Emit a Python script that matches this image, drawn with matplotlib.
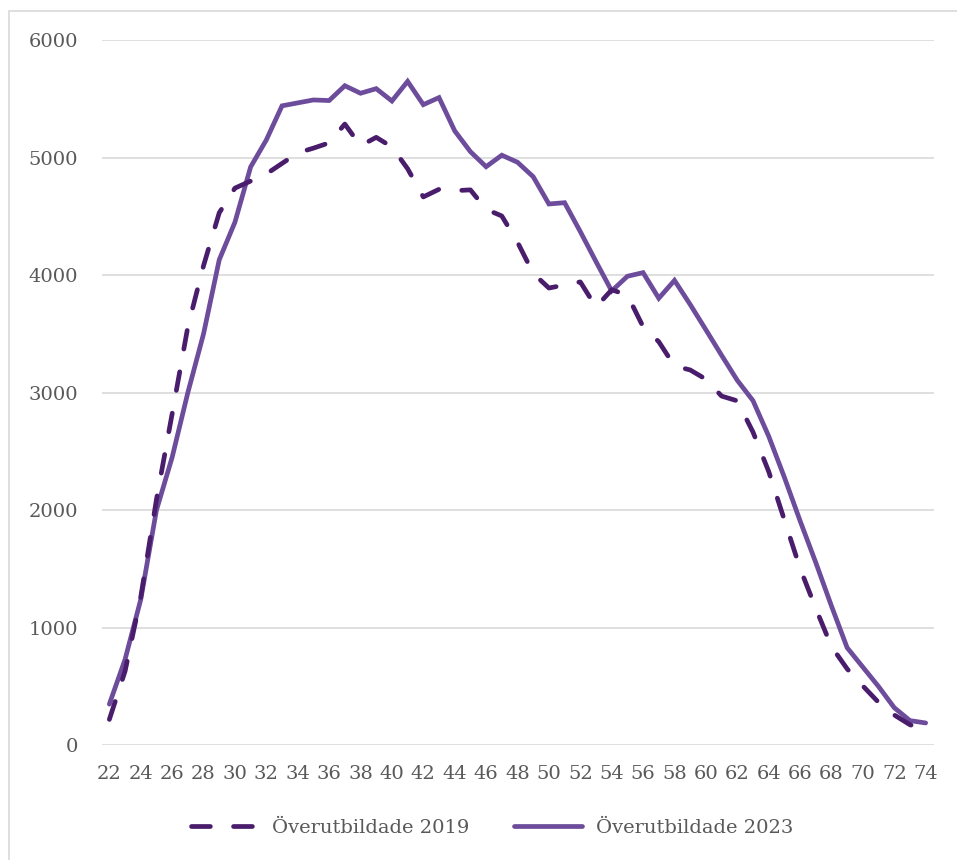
import numpy as np
import matplotlib
matplotlib.use("Agg")
import matplotlib.pyplot as plt
from matplotlib.patches import Rectangle

# ages 22..74, values
ages = list(range(22, 75))

over_2019 = [220, 630, 1260, 2090, 2820, 3560, 4080, 4530, 4740, 4800,
             4860, 4950, 5040, 5080, 5125, 5285, 5100, 5172, 5090, 4905,
             4665, 4730, 4718, 4725, 4560, 4503, 4280, 4015, 3890, 3916,
             3942, 3728, 3875, 3830, 3561, 3433, 3227, 3193, 3114, 2971,
             2930, 2665, 2330, 1917, 1506, 1165, 840, 650, 505, 365,
             258, 175, 130]

over_2023 = [350, 730, 1240, 2000, 2450, 3000, 3500, 4130, 4450, 4920,
             5150, 5440, 5465, 5490, 5485, 5611, 5547, 5586, 5481, 5648,
             5450, 5510, 5227, 5050, 4922, 5020, 4960, 4837, 4605, 4616,
             4370, 4115, 3865, 3990, 4021, 3803, 3955, 3750, 3535, 3318,
             3105, 2932, 2630, 2280, 1910, 1555, 1185, 830, 665, 500,
             320, 210, 190]

labels = ["Överutbildade 2019", "Överutbildade 2023"]
yticks = [0, 1000, 2000, 3000, 4000, 5000, 6000]

c_2019 = "#4a1c6c"
c_2023 = "#6d4c9c"
grid_c = "#d9d9d9"
text_c = "#595959"

plt.rcParams["font.family"] = ["DejaVu Serif"]

W, H = 957, 860
fig = plt.figure(figsize=(W / 100, H / 100), dpi=100)

# outer chart border (only top and left are visible in the crop)
fig.patches.append(Rectangle((9 / W, -0.1), 1.2, 1 - 11 / H + 0.1,
                             transform=fig.transFigure, fill=False,
                             edgecolor=grid_c, linewidth=1.2, zorder=0))

ax = fig.add_axes([101.5 / W, 114.7 / H, 832 / W, 705.3 / H])

ax.plot(ages, over_2023, color=c_2023, lw=3.4, solid_joinstyle="miter",
        solid_capstyle="round", label=labels[1], zorder=3)
ax.plot(ages, over_2019, color=c_2019, lw=3.4, dashes=(4, 4.9),
        dash_capstyle="round", dash_joinstyle="round", label=labels[0], zorder=4)

ax.set_xlim(21.5, 74.5)
ax.set_ylim(0, 6000)
ax.set_xticks(ages[::2])
ax.set_xticklabels([str(a) for a in ages[::2]])
ax.set_yticks(yticks)
ax.yaxis.grid(True, color=grid_c, lw=1.2)
ax.set_axisbelow(True)
for s in ax.spines.values():
    s.set_visible(False)
ax.tick_params(axis="both", length=0, labelsize=14, colors=text_c)
ax.tick_params(axis="x", pad=14)
ax.tick_params(axis="y", pad=17)

handles, labs = ax.get_legend_handles_labels()
leg = fig.legend(handles[::-1], labs[::-1], loc="center",
                 bbox_to_anchor=(492 / W, 1 - 828 / H), ncol=2, frameon=False,
                 fontsize=14, handlelength=3.5, handletextpad=0.7,
                 columnspacing=2.3)
for t in leg.get_texts():
    t.set_color(text_c)

fig.savefig("out.png", dpi=100)
